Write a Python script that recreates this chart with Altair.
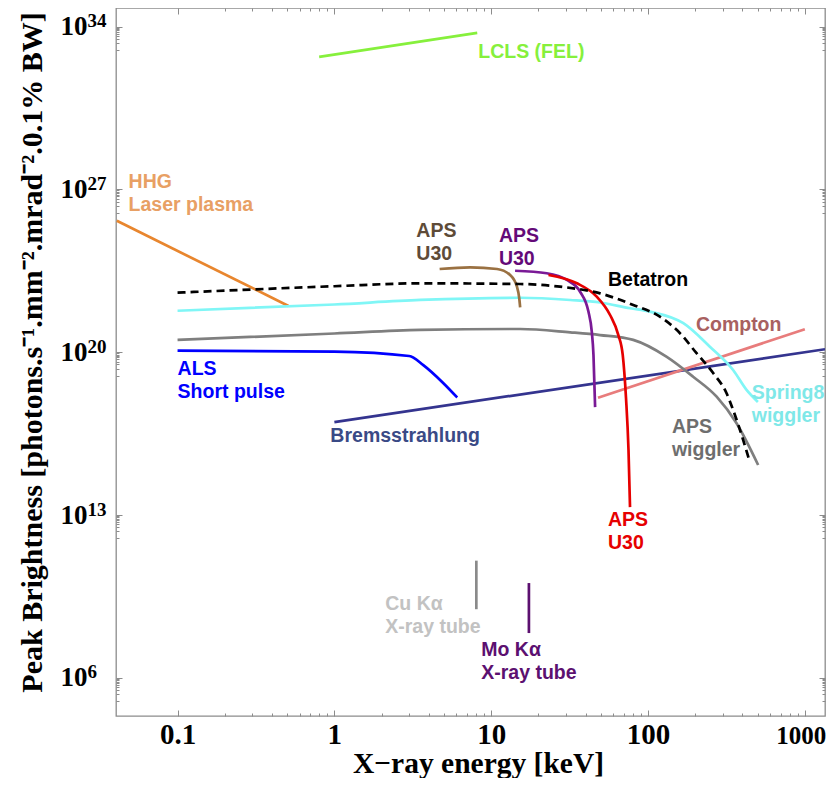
import altair as alt
import pandas as pd

# ---------------- data ----------------
# smooth source curves: photon energy [keV] and peak brightness
betatron_E = [0.1, 1, 3.53, 15.3, 27.5, 49.5, 80.5, 119, 160, 204, 261, 317, 349, 377, 440]
betatron_B = [3.65e22, 6.9e22, 9.2e22, 8.6e22, 6.6e22, 3.4e22, 1.08e22, 3.4e21, 6.6e20,
              9.1e19, 1.25e19, 1.73e18, 3.3e17, 7.4e16, 2.6e15]

spring8_E = [0.1, 1, 3.53, 15.3, 31.9, 49.5, 76.8, 103, 168, 248, 349, 425, 502]
spring8_B = [6.1e21, 1.13e22, 1.77e22, 2.2e22, 1.77e22, 1.38e22, 7.8e21, 5.6e21, 1.77e21,
             1.74e20, 1.73e19, 2.4e18, 7.3e17]

apsw_E = [0.1, 1, 3.53, 15.3, 31.9, 49.5, 80.5, 131, 194, 274, 367, 504]
apsw_B = [3.4e20, 6.4e20, 9.1e20, 1.0e21, 7.2e20, 5.5e20, 3.4e20, 6.5e19, 8.9e18,
          1.23e18, 8.9e16, 1.43e15]

als_E = [0.1, 1, 3.0, 3.69, 4.94, 6.07]
als_B = [1.17e20, 1.06e20, 6.9e19, 2.8e19, 4.8e18, 1.14e18]

u30brown_E = [4.69, 7.35, 10.9, 13.2, 14.6, 15.1, 15.3]
u30brown_B = [3.8e23, 4.5e23, 3.8e23, 2.1e23, 6.6e22, 2.1e22, 8.6e21]

u30purple_E = [14.2, 22.6, 30.4, 36.9, 41.7, 43.8, 44.9, 46.0]
u30purple_B = [3.2e23, 2.5e23, 1.28e23, 4.0e22, 5.6e21, 7.7e20, 7.7e19, 4.4e17]

u30red_E = [23.2, 35.2, 47.1, 57.3, 64.7, 69.0, 72.4, 75.1, 76.8]
u30red_B = [2.1e23, 9.2e22, 2.45e22, 4.0e21, 5.5e20, 7.7e19, 1.08e18, 6.3e15, 2.2e13]

# straight segments
hhg_E = [0.041, 0.51]
hhg_B = [4.47e25, 9.8e21]
lcls_E = [0.8, 8.15]
lcls_B = [5.0e32, 5.4e33]
brems_E = [1.0, 1345]
brems_B = [1.0e17, 1.35e20]
compton_E = [48, 1000]
compton_B = [1.1e18, 9.8e20]
cu_E = [8.04, 8.04]
cu_B = [9.0e8, 1.1e11]
mo_E = [17.4, 17.4]
mo_B = [8.5e7, 1.2e10]

# labels: text, energy, brightness (first-line baseline, left edge), colour
label_text = ["LCLS (FEL)", "HHG\nLaser plasma", "ALS\nShort pulse", "Bremsstrahlung",
              "APS\nU30", "APS\nU30", "Betatron", "Compton", "Spring8\nwiggler",
              "APS\nwiggler", "APS\nU30", "Cu Kα\nX-ray tube", "Mo Kα\nX-ray tube"]
label_E = [8.27, 0.0487, 0.1, 0.943, 3.33, 11.2, 55.6, 202, 459, 142, 55.6, 2.11, 8.64]
label_B = [4.4e32, 1.15e27, 1.06e19, 1.39e16, 9.1e24, 5.5e24, 7.1e22, 8.2e20, 9.8e17,
           3.4e16, 3.4e12, 8.3e8, 8.8e6]
label_color = ["#86f03c", "#e8a064", "#0000ff", "#3a4a86", "#5e4b38", "#640a78", "#000000",
               "#a86060", "#7fe8e8", "#6e6e6e", "#e60000", "#c2c2c2", "#5c1070"]

# axis ticks
x_major = [0.1, 1, 10, 100, 1000]
x_minor = [m * d for d in [0.1, 1, 10, 100] for m in range(2, 10)]
y_major_exp = [6, 13, 20, 27, 34]
y_major = [10.0 ** e for e in y_major_exp]
y_minor = [m * 10.0 ** (e - 1) for e in y_major_exp for m in range(1, 10)]

# ---------------- tables ----------------
def table(series_list):
    rows = []
    for name, Es, Bs, col in series_list:
        for i, (e, b) in enumerate(zip(Es, Bs)):
            rows.append({"series": name, "E": e, "B": b, "color": col, "i": i})
    return pd.DataFrame(rows)

curves_df = table([
    ("Spring8 wiggler", spring8_E, spring8_B, "#80f6f6"),
    ("APS wiggler", apsw_E, apsw_B, "#7f7f7f"),
    ("ALS", als_E, als_B, "#0000ff"),
    ("APS U30 brown", u30brown_E, u30brown_B, "#9a7142"),
    ("APS U30 purple", u30purple_E, u30purple_B, "#7a1a96"),
    ("APS U30 red", u30red_E, u30red_B, "#e60000"),
])
straight_df = table([
    ("HHG", hhg_E, hhg_B, "#e8862e"),
    ("LCLS", lcls_E, lcls_B, "#86f03c"),
    ("Bremsstrahlung", brems_E, brems_B, "#34348f"),
    ("Compton", compton_E, compton_B, "#e87c7c"),
    ("Cu", cu_E, cu_B, "#8a8a8a"),
    ("Mo", mo_E, mo_B, "#5c1070"),
])
bet_df = table([("Betatron", betatron_E, betatron_B, "#000000")])
labels_df = pd.DataFrame({"label": label_text, "E": label_E, "B": label_B, "color": label_color})

# ---------------- scales & axes ----------------
xscale = alt.Scale(type="log", domain=[0.0405, 1345], nice=False)
yscale = alt.Scale(type="log", domain=[2.31e4, 6.3e34], nice=False)
TICK = "#8c8c8c"
SERIF = "Liberation Serif"


def tick_axis(orient, values, size):
    return alt.Axis(orient=orient, values=values, tickSize=size, offset=-size,
                    domain=False, grid=False, labels=False, tickColor=TICK,
                    tickWidth=1, title=None)


x_main_axis = alt.Axis(orient="bottom", values=x_major, tickSize=6, offset=-6,
                       domain=False, grid=False, tickColor=TICK, tickWidth=1,
                       labelExpr="format(datum.value, '~g')", labelFont=SERIF,
                       labelFontWeight="bold",
                       labelFontSize={"condition": {"test": "datum.value >= 1000", "value": 25},
                                      "value": 29},
                       labelOffset={"condition": {"test": "datum.value >= 1000", "value": -4},
                                    "value": 0},
                       labelColor="black",
                       labelBaseline="alphabetic", labelPadding=27,
                       labelOverlap=False, labelFlush=False,
                       title="X−ray energy [keV]", titleFont=SERIF, titleFontWeight="bold",
                       titleFontSize=29.5, titleColor="black", titleBaseline="alphabetic",
                       titleX=362, titleY=62)
# "10" part of the power-of-ten labels
y_main_axis = alt.Axis(orient="left", values=y_major, tickSize=6, offset=-6,
                       domain=False, grid=False, tickColor=TICK, tickWidth=1,
                       labelExpr="'10'", labelFont=SERIF, labelFontWeight="bold",
                       labelFontSize=27, labelColor="black", labelPadding=29,
                       labelBaseline="middle", labelOverlap=False, labelFlush=False,
                       title="Peak Brightness [photons.s⁻¹.mm⁻².mrad⁻².0.1% BW]",
                       titleFont=SERIF, titleFontWeight="bold", titleFontSize=30,
                       titleColor="black", titleX=-75, titleY=344)
# exponent part of the power-of-ten labels
y_exp_axis = alt.Axis(orient="left", values=y_major, ticks=False, domain=False, grid=False,
                      labelExpr="format(round(log(datum.value)/LN10), 'd')",
                      labelFont=SERIF, labelFontWeight="bold", labelFontSize=19,
                      labelColor="black", labelAlign="left", labelBaseline="middle",
                      labelPadding=29, labelOffset=-6, labelOverlap=False,
                      labelFlush=False, title=None)

straight = alt.Chart(straight_df).mark_line(strokeWidth=2.7, clip=True).encode(
    x=alt.X("E:Q", scale=xscale, axis=x_main_axis),
    y=alt.Y("B:Q", scale=yscale, axis=y_main_axis),
    color=alt.Color("color:N", scale=None),
    detail="series:N",
    order="i:Q",
)

curves = alt.Chart(curves_df).mark_line(strokeWidth=2.7, clip=True, interpolate="monotone").encode(
    x=alt.X("E:Q", scale=xscale, axis=tick_axis("bottom", x_minor, 3)),
    y=alt.Y("B:Q", scale=yscale, axis=tick_axis("left", y_minor, 3)),
    color=alt.Color("color:N", scale=None),
    detail="series:N",
    order="i:Q",
)

betatron = alt.Chart(bet_df).mark_line(strokeWidth=2.7, clip=True, interpolate="monotone",
                                       strokeDash=[8, 5], color="#000000").encode(
    x=alt.X("E:Q", scale=xscale, axis=tick_axis("top", x_major, 6)),
    y=alt.Y("B:Q", scale=yscale, axis=tick_axis("right", y_major, 6)),
    order="i:Q",
)

texts = alt.Chart(labels_df).mark_text(align="left", baseline="alphabetic",
                                       font="Liberation Sans", fontWeight="bold",
                                       fontSize=19.5, lineBreak="\n", lineHeight=23).encode(
    x=alt.X("E:Q", scale=xscale, axis=tick_axis("top", x_minor, 3)),
    y=alt.Y("B:Q", scale=yscale, axis=tick_axis("right", y_minor, 3)),
    text="label:N",
    color=alt.Color("color:N", scale=None),
)

exp_holder = alt.Chart(labels_df).mark_point(opacity=0).encode(
    x=alt.X("E:Q", scale=xscale, axis=None),
    y=alt.Y("B:Q", scale=yscale, axis=y_exp_axis),
)

chart = alt.layer(straight, curves, betatron, texts, exp_holder).resolve_axis(
    x="independent", y="independent"
).properties(
    width=709, height=708,
    autosize=alt.AutoSizeParams(type="none"),
    padding={"left": 108, "top": 0, "right": 2, "bottom": 62},
    background="white",
).configure_view(stroke=TICK, strokeWidth=1.3)

chart.save("out.html", embed_options={"renderer": "svg", "actions": False})
